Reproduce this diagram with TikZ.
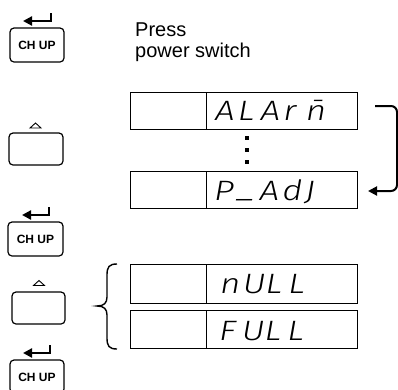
\documentclass[tikz,border=0pt]{standalone}
\usepackage{fontspec}
\setmainfont{Liberation Sans}
\newfontfamily\segfont{Fira Sans}[UprightFont=* Light, ItalicFont=* Light Italic, FakeStretch=1.25]
\usetikzlibrary{arrows.meta}
\newcommand{\sg}[1]{\makebox[22.7pt][l]{#1}}
\tikzset{
  btn/.style={draw, line width=1.2pt, rounded corners=4pt, inner sep=0pt, minimum width=54pt, minimum height=34pt, font=\fontsize{12}{13}\selectfont\bfseries},
  enter/.style={line width=2.2pt, -{Triangle[length=9pt,width=9pt]}},
  tri/.style={draw, line width=0.9pt},
  dispL/.style={draw, line width=0.9pt, minimum width=76pt, inner sep=0pt},
  dispR/.style={draw, line width=0.9pt, minimum width=151pt, inner sep=0pt},
  seg/.style={anchor=base west, inner sep=0pt, font=\fontsize{28}{28}\selectfont\segfont\itshape},
  loop/.style={line width=2pt, rounded corners=6pt, -{Triangle[length=9pt,width=9pt]}},
  dot/.style={fill, minimum size=4pt, inner sep=0pt}
}
\begin{document}
\begin{tikzpicture}[x=1pt,y=-1pt]
\useasboundingbox (0,0) rectangle (398,389);
\clip (0,0) rectangle (398,389);
% buttons
\node[btn] (b1) at (37,45) {CH UP};
\node[btn, minimum height=32pt] (b2) at (36,149) {};
\node[btn, minimum width=55pt] (b3) at (35.5,239) {CH UP};
\node[btn, minimum width=53pt, minimum height=32pt] (b4) at (38.5,308) {};
\node[btn, minimum height=33pt] (b5) at (37,376.5) {};
\node[font=\fontsize{12}{13}\selectfont\bfseries, inner sep=0pt] (b5t) at (37,377) {CH UP};
% enter arrows
\coordinate (a1s) at (51,13); \coordinate (a1e) at (23,21);
\draw[enter] (a1s) |- (a1e);
\coordinate (a3s) at (49,207); \coordinate (a3e) at (22,215);
\draw[enter] (a3s) |- (a3e);
\coordinate (a5s) at (50,345); \coordinate (a5e) at (23,353);
\draw[enter] (a5s) |- (a5e);
% triangles
\draw[tri] (35.5,123) -- (41,128) -- (30,128) -- cycle;
\draw[tri] (39,280.5) -- (44.5,285.5) -- (33.5,285.5) -- cycle;
% text
\node[anchor=north west, align=left, inner sep=0pt, font=\fontsize{20}{21.5}\selectfont] (press) at (135,22.5) {Press\\power switch};
% displays
\node[dispL, minimum height=37pt] (d1l) at (168,110.5) {};
\node[dispR, minimum height=37pt] (d1r) at (281.5,110.5) {};
\node[dispL, minimum height=37pt] (d2l) at (168,189.5) {};
\node[dispR, minimum height=37pt] (d2r) at (281.5,189.5) {};
\node[dispL, minimum height=39pt] (d3l) at (168,283.5) {};
\node[dispR, minimum height=39pt] (d3r) at (281.5,283.5) {};
\node[dispL, minimum height=38pt] (d4l) at (168,329) {};
\node[dispR, minimum height=38pt] (d4r) at (281.5,329) {};
\node[seg] (t1) at (215,120) {\sg{A}\sg{L}\sg{A}\sg{r}\sg{\=n}};
\node[seg] (t2) at (214,200) {\sg{P}\sg{\raisebox{3pt}{\_}}\sg{A}\sg{d}\sg{J}};
\node[seg] (t3) at (220,293) {\sg{n}\sg{U}\sg{L}\sg{L}};
\node[seg] (t4) at (219,340) {\sg{F}\sg{U}\sg{L}\sg{L}};
% dots
\node[dot] (p1) at (247,137.5) {};
\node[dot] (p2) at (247,150) {};
\node[dot] (p3) at (247,162) {};
% loop arrow
\coordinate (l1) at (375,106); \coordinate (l2) at (397,106);
\coordinate (l3) at (397,191); \coordinate (l4) at (368,191);
\draw[loop] (l1) -- (l2) -- (l3) -- (l4);
% brace
\draw[line width=1.4pt] (117,264) .. controls (109,264) and (107,267) .. (107,275) -- (107,297) .. controls (107,303) and (104,306) .. (97,306) .. controls (104,306) and (107,309) .. (107,315) -- (107,338) .. controls (107,346) and (109,349) .. (117,349);
\end{tikzpicture}
\end{document}
